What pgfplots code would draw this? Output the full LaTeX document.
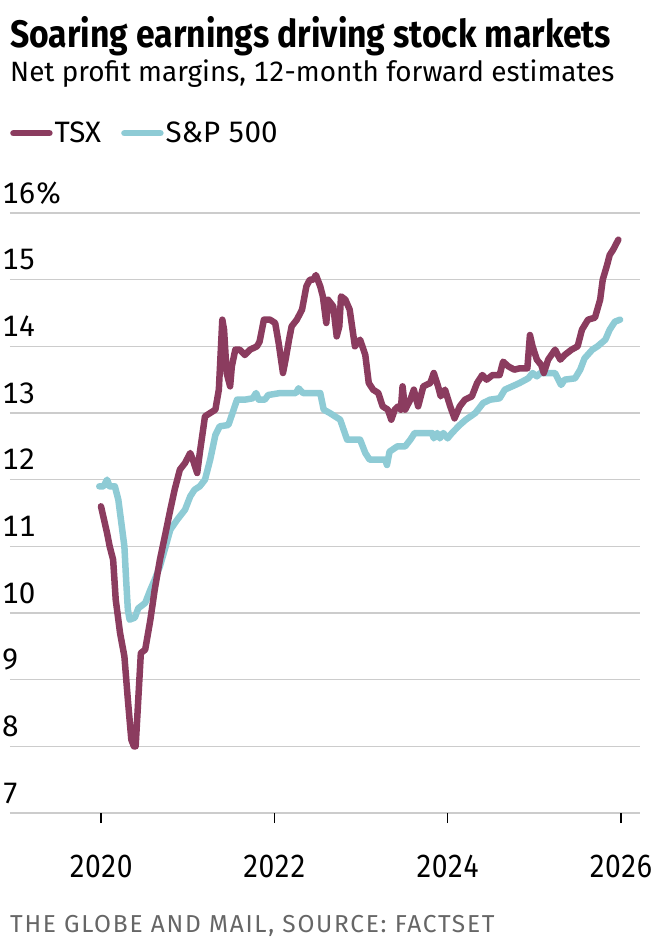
\documentclass[border=0pt]{standalone}
\usepackage{pgfplots}
\pgfplotsset{compat=1.18}
\usepackage{pgfplotstable}
\usepackage{fontspec}
\setmainfont{Fira Sans}[Numbers=Monospaced]
\newfontfamily\condfont{Fira Sans}[FakeStretch=0.88, Numbers=Monospaced]
\newfontfamily\srcfont{Fira Sans}[LetterSpace=7]

\definecolor{tsx}{HTML}{8B3C5F}
\definecolor{spx}{HTML}{8ECBD5}
\definecolor{gridgray}{HTML}{CCCCCC}
\definecolor{srcgray}{HTML}{666666}

% 12-month forward net profit margin, %
\pgfplotstableread{
year val
2020.00 11.60
2020.035 11.40
2020.07 11.20
2020.10 11.00
2020.14 10.80
2020.17 10.20
2020.22 9.70
2020.27 9.35
2020.31 8.70
2020.35 8.10
2020.38 8.00
2020.40 8.00
2020.43 8.70
2020.46 9.40
2020.51 9.45
2020.57 9.90
2020.62 10.35
2020.68 10.80
2020.74 11.17
2020.80 11.55
2020.85 11.85
2020.91 12.15
2020.97 12.25
2021.03 12.40
2021.06 12.30
2021.11 12.10
2021.14 12.40
2021.20 12.95
2021.26 13.00
2021.32 13.05
2021.36 13.35
2021.40 14.40
2021.42 14.25
2021.45 13.60
2021.49 13.40
2021.51 13.70
2021.55 13.95
2021.60 13.95
2021.66 13.87
2021.72 13.95
2021.80 14.00
2021.83 14.07
2021.88 14.40
2021.95 14.40
2022.01 14.35
2022.05 14.05
2022.10 13.60
2022.13 13.80
2022.17 14.10
2022.20 14.30
2022.26 14.40
2022.32 14.55
2022.37 14.90
2022.41 15.00
2022.45 15.00
2022.48 15.07
2022.53 14.90
2022.56 14.75
2022.60 14.35
2022.62 14.70
2022.68 14.60
2022.72 14.15
2022.75 14.30
2022.77 14.75
2022.82 14.70
2022.87 14.55
2022.93 14.00
2022.99 14.10
2023.05 13.87
2023.09 13.45
2023.14 13.35
2023.20 13.30
2023.25 13.10
2023.31 13.05
2023.35 12.90
2023.39 13.05
2023.43 13.10
2023.46 13.05
2023.48 13.40
2023.51 13.05
2023.57 13.20
2023.61 13.35
2023.66 13.10
2023.72 13.40
2023.80 13.45
2023.84 13.60
2023.89 13.40
2023.92 13.25
2023.97 13.35
2024.03 13.10
2024.08 12.92
2024.14 13.10
2024.20 13.20
2024.28 13.25
2024.34 13.45
2024.40 13.57
2024.45 13.50
2024.52 13.57
2024.60 13.57
2024.64 13.77
2024.70 13.70
2024.77 13.65
2024.83 13.67
2024.92 13.67
2024.95 14.17
2024.98 14.00
2025.03 13.80
2025.08 13.72
2025.11 13.60
2025.16 13.80
2025.24 13.95
2025.30 13.80
2025.35 13.87
2025.43 13.95
2025.50 14.00
2025.55 14.25
2025.62 14.40
2025.70 14.43
2025.76 14.70
2025.79 15.00
2025.84 15.22
2025.87 15.37
2025.91 15.45
2025.97 15.60
}\tsxdata

\pgfplotstableread{
year val
2019.98 11.90
2020.03 11.90
2020.07 12.00
2020.10 11.90
2020.16 11.90
2020.20 11.70
2020.23 11.40
2020.27 11.00
2020.29 10.50
2020.31 10.05
2020.33 9.90
2020.39 9.93
2020.43 10.07
2020.51 10.15
2020.57 10.35
2020.62 10.50
2020.68 10.70
2020.74 10.97
2020.80 11.25
2020.88 11.40
2020.97 11.55
2021.03 11.75
2021.08 11.85
2021.14 11.90
2021.20 12.00
2021.26 12.30
2021.32 12.67
2021.37 12.80
2021.47 12.82
2021.51 12.97
2021.57 13.20
2021.66 13.20
2021.75 13.22
2021.79 13.30
2021.82 13.20
2021.89 13.20
2021.93 13.27
2022.07 13.30
2022.25 13.30
2022.28 13.37
2022.33 13.30
2022.53 13.30
2022.57 13.05
2022.64 13.00
2022.76 12.90
2022.84 12.60
2022.99 12.60
2023.05 12.40
2023.10 12.30
2023.28 12.30
2023.30 12.22
2023.33 12.42
2023.42 12.50
2023.51 12.50
2023.57 12.60
2023.62 12.70
2023.82 12.70
2023.84 12.62
2023.88 12.70
2023.91 12.62
2023.95 12.70
2024.00 12.62
2024.05 12.70
2024.14 12.82
2024.21 12.90
2024.32 13.00
2024.41 13.15
2024.49 13.20
2024.60 13.22
2024.66 13.35
2024.78 13.42
2024.83 13.45
2024.93 13.52
2024.98 13.60
2025.03 13.55
2025.07 13.60
2025.24 13.60
2025.27 13.52
2025.31 13.42
2025.35 13.50
2025.47 13.52
2025.53 13.65
2025.58 13.82
2025.67 13.95
2025.73 14.00
2025.82 14.10
2025.87 14.25
2025.93 14.37
2025.99 14.40
}\spxdata

\begin{document}
\begin{tikzpicture}
\useasboundingbox (-10pt,-137pt) rectangle (650pt,813pt);
\begin{axis}[
    at={(0pt,0pt)}, anchor=south west,
    scale only axis, width=630pt, height=600pt,
    xmin=2018.95, xmax=2026.22, ymin=7, ymax=16,
    axis x line*=bottom, axis y line*=left,
    axis line style={draw=none},
    xtick={2020,2022,2024,2026},
    xticklabels={2020,2022,2024,2026},
    ytick={7,8,...,16},
    yticklabels={7,8,9,10,11,12,13,14,15,16\%},
    ymajorgrids, grid style={gridgray, line width=1.5pt},
    major tick length=10pt, tick align=outside,
    xtick style={black, line width=1.5pt},
    ytick style={draw=none},
    yticklabel style={anchor=base west, inner sep=0pt, xshift=2pt, yshift=10pt,
        font=\fontsize{29.5}{29.5}\selectfont},
    xticklabel style={anchor=base, inner sep=0pt, yshift=-54pt,
        font=\condfont\fontsize{32}{32}\selectfont},
    clip=false,
    reverse legend,
    legend columns=2,
    legend style={at={(0,1.133)}, anchor=west, draw=none, fill=none, inner sep=0pt,
        font=\fontsize{29.5}{29.5}\selectfont,
        /tikz/every even column/.append style={column sep=18pt}},
    legend image code/.code={\draw[line width=6.5pt, line cap=round] (3pt,0pt) -- (29pt,0pt);
        \path (0pt,0pt) -- (36pt,0pt);},
]
\addplot[spx, line width=6.5pt, line join=round, line cap=round] table[x=year, y=val] {\spxdata};
\addlegendentry{S\&P 500}
\addplot[tsx, line width=6.5pt, line join=round, line cap=round] table[x=year, y=val] {\tsxdata};
\addlegendentry{TSX}
\end{axis}
\node[anchor=base west, inner sep=0pt, font=\condfont\bfseries\fontsize{38.3}{38.3}\selectfont]
    at (0pt,765pt) {Soaring earnings driving stock markets};
\node[anchor=base west, inner sep=0pt, font=\fontsize{27.9}{27.9}\selectfont]
    at (0pt,731pt) {Net profit margins, 12-month forward estimates};
\node[anchor=base west, inner sep=0pt, text=srcgray, font=\srcfont\fontsize{24.5}{24.5}\selectfont]
    at (0pt,-119pt) {THE GLOBE AND MAIL, SOURCE: FACTSET};
\end{tikzpicture}
\end{document}
